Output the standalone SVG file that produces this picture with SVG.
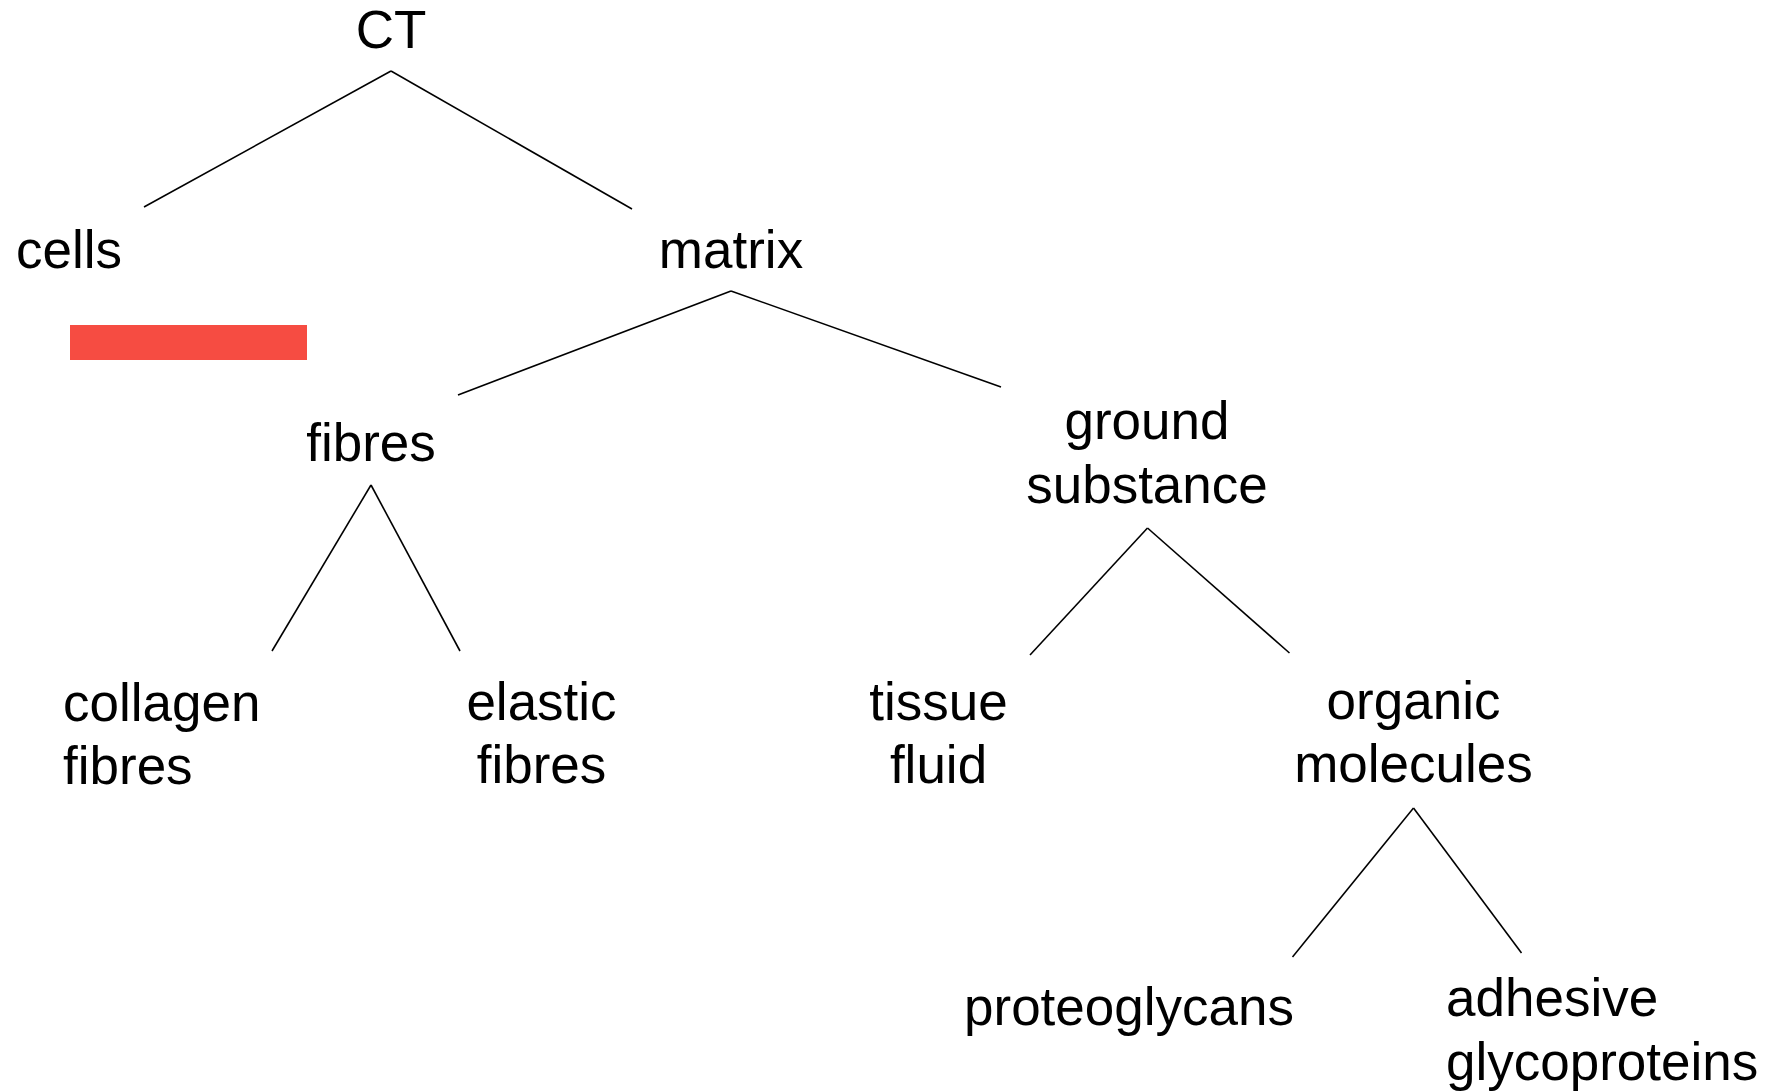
<svg xmlns="http://www.w3.org/2000/svg" width="1781" height="1092" viewBox="0 0 1781 1092">
<style>
text{font-family:"Liberation Sans",Arial,sans-serif;font-size:53px;fill:#000}
.c{text-anchor:middle}
.e line{stroke:#000;stroke-width:1.6;fill:none}
</style>
<rect width="1781" height="1092" fill="#fff"/>
<g class="e" id="connectors">
<line x1="391" y1="71" x2="144" y2="207"/>
<line x1="391" y1="71" x2="632" y2="209"/>
<line x1="731" y1="291" x2="458" y2="395"/>
<line x1="731" y1="291" x2="1001" y2="387"/>
<line x1="371" y1="485" x2="272" y2="651"/>
<line x1="371" y1="485" x2="460" y2="651"/>
<line x1="1147.5" y1="528" x2="1030" y2="655"/>
<line x1="1147.5" y1="528" x2="1289.5" y2="653"/>
<line x1="1413.5" y1="808" x2="1292.5" y2="957"/>
<line x1="1413.5" y1="808" x2="1521.5" y2="953"/>
</g>
<g id="n-ct"><text class="c" x="391" y="48">CT</text></g>
<g id="n-cells"><text x="16" y="268">cells</text></g>
<g id="n-redbar"><rect x="70" y="325" width="237" height="35" fill="#F64C42"/></g>
<g id="n-matrix"><text class="c" x="731" y="268">matrix</text></g>
<g id="n-fibres"><text class="c" x="371" y="461">fibres</text></g>
<g id="n-ground"><text class="c" x="1147" y="439">ground</text><text class="c" x="1147" y="503">substance</text></g>
<g id="n-collagen"><text x="63" y="721">collagen</text><text x="63" y="784">fibres</text></g>
<g id="n-elastic"><text class="c" x="541.5" y="720">elastic</text><text class="c" x="541.5" y="783">fibres</text></g>
<g id="n-tissue"><text class="c" x="938.5" y="720">tissue</text><text class="c" x="938.5" y="783">fluid</text></g>
<g id="n-organic"><text class="c" x="1413.5" y="719">organic</text><text class="c" x="1413.5" y="782">molecules</text></g>
<g id="n-proteo"><text class="c" x="1129" y="1025">proteoglycans</text></g>
<g id="n-adhesive"><text x="1446" y="1016">adhesive</text><text x="1446" y="1080">glycoproteins</text></g>
</svg>
